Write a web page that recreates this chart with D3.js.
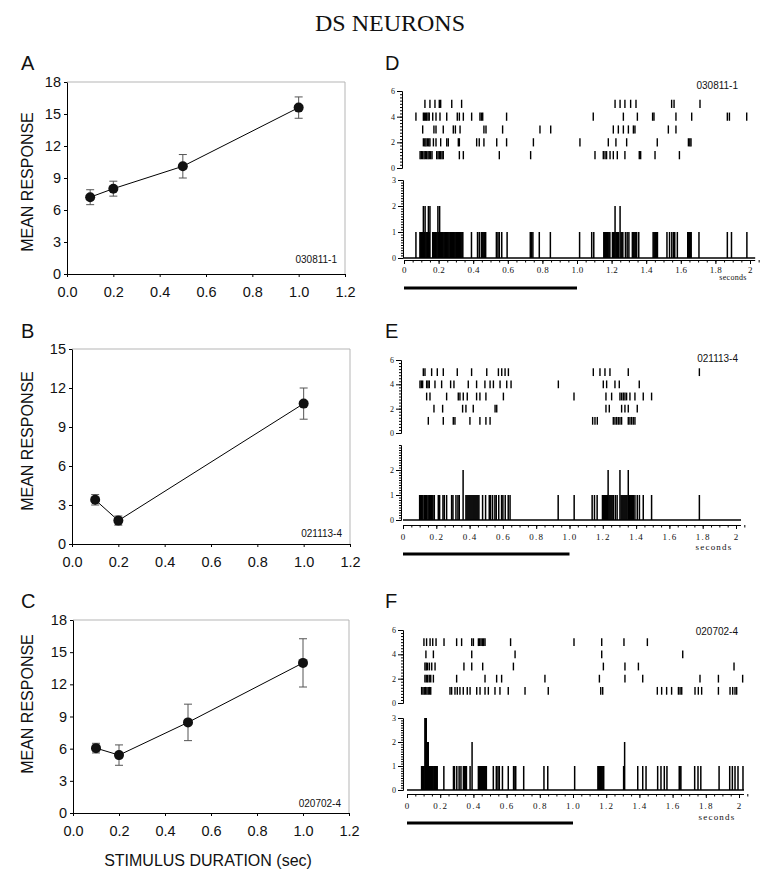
<!DOCTYPE html>
<html><head><meta charset="utf-8">
<script src="https://cdn.jsdelivr.net/npm/d3@7"></script>
<style>body{margin:0;background:#fff}</style>
</head><body><svg id="c" width="776" height="890"></svg>
<script>
// ---------------- Left panels: mean response vs stimulus duration ----------------
const xTicksDur = [0, 0.2, 0.4, 0.6, 0.8, 1.0, 1.2];
const durA = [0.1, 0.2, 0.5, 1.0];
const meanA = [7.2, 8.0, 10.1, 15.6];
const errA = [0.7, 0.7, 1.1, 1.0];
const yTicksA = [0, 3, 6, 9, 12, 15, 18];

const durB = [0.1, 0.2, 1.0];
const meanB = [3.4, 1.8, 10.8];
const errB = [0.4, 0.35, 1.2];
const yTicksB = [0, 3, 6, 9, 12, 15];

const durC = [0.1, 0.2, 0.5, 1.0];
const meanC = [6.05, 5.4, 8.45, 14.0];
const errC = [0.45, 0.95, 1.7, 2.25];
const yTicksC = [0, 3, 6, 9, 12, 15, 18];

// ---------------- Right panels: rasters (trial 1..5) and PSTH ----------------
const secTicks = [0, 0.2, 0.4, 0.6, 0.8, 1.0, 1.2, 1.4, 1.6, 1.8, 2.0];
const rasterTicks = [0, 2, 4, 6];

const rasterD1 = [0.093,0.100,0.108,0.116,0.123,0.131,0.139,0.146,0.154,0.162,0.189,0.197,0.205,0.212,0.220,0.227,0.320,0.343,0.551,0.732,1.104,1.152,1.162,1.171,1.191,1.210,1.233,1.277,1.360,1.368,1.451,1.592];
const rasterD2 = [0.112,0.120,0.127,0.135,0.143,0.150,0.170,0.185,0.212,0.247,0.256,0.314,0.320,0.420,0.435,0.462,0.536,0.593,0.748,1.017,1.181,1.225,1.287,1.464,1.644,1.652,1.659];
const rasterD3 = [0.108,0.173,0.185,0.227,0.285,0.297,0.324,0.462,0.474,0.570,0.786,0.848,1.210,1.239,1.268,1.297,1.326,1.335,1.528,1.572];
const rasterD4 = [0.069,0.112,0.118,0.125,0.131,0.139,0.146,0.166,0.185,0.208,0.247,0.308,0.320,0.343,0.391,0.439,0.447,0.455,0.593,1.094,1.268,1.349,1.437,1.445,1.572,1.663,1.869,1.881,1.981];
const rasterD5 = [0.121,0.150,0.179,0.204,0.212,0.276,0.333,1.220,1.249,1.277,1.310,1.341,1.547,1.561,1.711];
const histD = [[0.069,1],
 [0.092,1],[0.097,1],[0.102,1],[0.107,1],[0.112,2],[0.117,1],[0.122,2],[0.127,1],[0.132,1],[0.137,1],[0.141,2],[0.146,1],[0.150,2],
 [0.166,1],[0.171,1],[0.176,1],[0.181,1],[0.186,1],[0.191,1],[0.196,2],[0.201,1],[0.206,2],[0.211,1],[0.216,1],[0.221,1],[0.226,1],[0.231,1],[0.236,1],[0.241,1],[0.247,1],[0.253,1],[0.259,1],[0.265,1],[0.270,1],[0.275,1],[0.280,1],[0.285,1],[0.290,1],[0.295,1],[0.300,1],[0.305,1],[0.310,1],[0.315,1],[0.320,1],[0.325,1],[0.330,1],[0.335,1],[0.340,1],
 [0.390,1],[0.425,1],[0.435,1],[0.447,1],[0.452,1],[0.457,1],[0.462,1],[0.467,1],[0.472,1],
 [0.534,1],[0.543,1],[0.551,1],[0.565,1],[0.596,1],
 [0.730,1],[0.737,1],[0.745,1],[0.782,1],[0.846,1],[1.015,1],[1.085,1],[1.097,1],
 [1.155,1],[1.160,1],[1.165,1],[1.170,1],[1.175,1],[1.180,1],[1.185,1],[1.190,1],
 [1.205,1],[1.210,1],[1.215,1],[1.220,2],[1.225,1],[1.230,1],[1.235,1],[1.240,1],[1.249,2],[1.255,1],[1.260,1],[1.265,1],
 [1.280,1],[1.290,1],[1.300,1],
 [1.320,1],[1.325,1],[1.330,1],[1.335,1],[1.340,1],[1.345,1],[1.357,1],
 [1.440,1],[1.445,1],[1.450,1],[1.455,1],[1.460,1],[1.465,1],
 [1.520,1],[1.535,1],[1.548,1],[1.558,1],[1.565,1],[1.580,1],
 [1.640,1],[1.645,1],[1.650,1],[1.655,1],[1.660,1],[1.705,1],
 [1.869,1],[1.893,1],[1.982,1]];

const rasterE1 = [0.152,0.242,0.302,0.312,0.402,0.462,0.498,0.523,1.139,1.153,1.167,1.263,1.273,1.283,1.293,1.303,1.313,1.353,1.363,1.373,1.383,1.393];
const rasterE2 = [0.186,0.238,0.358,0.378,0.422,0.553,0.563,1.219,1.239,1.313,1.333,1.353,1.407];
const rasterE3 = [0.142,0.162,0.262,0.332,0.342,0.362,0.386,0.442,0.462,0.498,0.603,1.027,1.219,1.253,1.303,1.313,1.323,1.333,1.343,1.363,1.393,1.443,1.493];
const rasterE4 = [0.102,0.110,0.118,0.142,0.150,0.158,0.192,0.232,0.286,0.306,0.392,0.442,0.492,0.523,0.543,0.583,0.623,0.649,0.933,1.203,1.223,1.273,1.299,1.419];
const rasterE5 = [0.122,0.132,0.172,0.206,0.242,0.326,0.412,0.503,0.573,0.593,0.613,0.633,1.143,1.183,1.213,1.243,1.353,1.780];
const histE = [[0.100,1],[0.105,1],[0.110,1],[0.115,1],[0.120,1],[0.128,1],[0.135,1],[0.140,1],[0.145,1],[0.155,1],[0.160,1],[0.165,1],[0.170,1],[0.175,1],[0.180,1],[0.188,1],
 [0.212,1],[0.220,1],[0.240,1],[0.248,1],[0.262,1],[0.292,1],[0.300,1],[0.318,1],[0.330,1],[0.338,1],
 [0.361,2],
 [0.378,1],[0.384,1],[0.390,1],[0.396,1],[0.402,1],[0.408,1],[0.414,1],[0.420,1],[0.426,1],[0.432,1],[0.438,1],[0.444,1],[0.450,1],[0.456,1],
 [0.478,1],[0.496,1],[0.518,1],[0.526,1],[0.538,1],[0.552,1],[0.560,1],[0.575,1],[0.592,1],[0.600,1],[0.614,1],[0.632,1],[0.643,1],
 [0.932,1],[1.028,1],[1.136,1],[1.150,1],[1.166,1],
 [1.198,1],[1.204,1],[1.210,1],[1.216,1],[1.222,1],[1.228,1],[1.232,2],[1.238,1],[1.244,1],[1.250,1],[1.256,1],[1.263,1],
 [1.275,1],[1.286,1],[1.303,2],[1.310,1],[1.316,1],[1.322,1],[1.328,1],[1.334,1],[1.340,1],[1.346,1],[1.353,2],[1.360,1],[1.366,1],[1.372,1],[1.378,1],[1.385,1],[1.393,1],
 [1.407,1],[1.420,1],[1.443,1],[1.493,1],[1.780,1]];

const rasterF1 = [0.088,0.096,0.104,0.112,0.120,0.128,0.136,0.143,0.259,0.269,0.289,0.303,0.319,0.339,0.363,0.380,0.420,0.440,0.470,0.490,0.530,0.560,0.610,0.711,0.851,1.167,1.179,1.508,1.534,1.564,1.594,1.635,1.645,1.655,1.735,1.755,1.775,1.876,1.946,1.962,1.976,1.986];
const rasterF2 = [0.108,0.116,0.124,0.134,0.143,0.159,0.299,0.470,0.540,0.570,0.831,1.159,1.313,1.420,1.765,1.876,2.022];
const rasterF3 = [0.108,0.116,0.124,0.135,0.149,0.169,0.343,0.390,0.456,0.641,1.183,1.313,1.394,1.970];
const rasterF4 = [0.114,0.159,0.390,0.651,1.173,1.661];
const rasterF5 = [0.102,0.118,0.139,0.155,0.175,0.223,0.299,0.329,0.390,0.400,0.430,0.438,0.446,0.454,0.462,0.470,0.624,1.006,1.173,1.307,1.448];
const histF = [[0.088,1],[0.093,1],[0.098,1],[0.103,1],[0.108,3],[0.112,3],[0.116,3],[0.120,2],[0.124,2],[0.128,2],[0.132,1],[0.137,1],[0.142,1],[0.147,1],[0.152,1],[0.157,1],[0.162,1],[0.167,1],[0.172,1],[0.177,1],[0.182,1],
 [0.222,1],[0.280,1],[0.286,1],[0.300,1],[0.314,1],[0.325,1],[0.340,1],[0.346,1],[0.352,1],[0.358,1],[0.380,1],[0.392,2],
 [0.430,1],[0.436,1],[0.442,1],[0.448,1],[0.454,1],[0.460,1],[0.466,1],[0.472,1],[0.478,1],
 [0.520,1],[0.538,1],[0.548,1],[0.556,1],[0.575,1],[0.610,1],[0.642,1],[0.650,1],[0.655,1],[0.703,1],
 [0.825,1],[0.848,1],[1.010,1],
 [1.150,1],[1.155,1],[1.160,1],[1.165,1],[1.170,1],[1.175,1],[1.180,1],[1.185,1],
 [1.305,1],[1.311,2],[1.390,1],[1.420,1],[1.440,1],[1.510,1],[1.530,1],[1.550,1],[1.566,1],[1.640,1],[1.645,1],[1.650,1],
 [1.733,1],[1.753,1],[1.770,1],[1.880,1],[1.944,1],[1.960,1],[1.976,1],[1.994,1],[2.024,1]];

// ---------------- drawing ----------------
const SANS = "'Liberation Sans', Arial, sans-serif";
const SERIF = "'Liberation Serif', 'Times New Roman', serif";
const svg = d3.select('#c');
svg.append('rect').attr('width', 776).attr('height', 890).attr('fill', '#fff');

svg.append('text').attr('x', 390).attr('y', 31).attr('text-anchor', 'middle')
  .attr('font-family', SERIF).attr('font-size', 24).attr('fill', '#111').text('DS NEURONS');

const leftPanels = [
  {letter: 'A', letterY: 70, id: '030811-1', idY: 263, dur: durA, mean: meanA, err: errA, yt: yTicksA,
   L: 67, T: 82, R: 345, B: 274, labY: 182},
  {letter: 'B', letterY: 338, id: '021113-4', idY: 537, dur: durB, mean: meanB, err: errB, yt: yTicksB,
   L: 72, T: 349, R: 350, B: 544, labY: 441},
  {letter: 'C', letterY: 608, id: '020702-4', idY: 807, dur: durC, mean: meanC, err: errC, yt: yTicksC,
   L: 73, T: 620, R: 349, B: 813, labY: 704}
];

leftPanels.forEach(p => {
  const g = svg.append('g');
  const x = d3.scaleLinear().domain([0, 1.2]).range([p.L, p.R]);
  const y = d3.scaleLinear().domain([0, d3.max(p.yt)]).range([p.B, p.T]);

  g.append('text').attr('x', 21).attr('y', p.letterY).attr('font-family', SANS)
    .attr('font-size', 20).attr('fill', '#111').text(p.letter);

  // light frame (top & right)
  g.append('path').attr('d', `M${p.L},${p.T}H${p.R}V${p.B}`).attr('fill', 'none')
    .attr('stroke', '#b5b5b5').attr('stroke-width', 1);

  const ya = g.append('g').attr('transform', `translate(${p.L},0)`)
    .call(d3.axisLeft(y).tickValues(p.yt).tickFormat(d3.format('d')).tickSize(3).tickSizeOuter(0).tickPadding(3));
  ya.attr('font-family', SANS).attr('font-size', 14.5);
  const xa = g.append('g').attr('transform', `translate(0,${p.B})`)
    .call(d3.axisBottom(x).tickValues(xTicksDur).tickFormat(d3.format('.1f')).tickSize(3).tickSizeOuter(0).tickPadding(10));
  xa.attr('font-family', SANS).attr('font-size', 14.5);
  g.selectAll('text').attr('fill', '#111');
  g.selectAll('.domain').attr('stroke', '#000');

  g.append('text').attr('transform', `translate(33,${p.labY}) rotate(-90)`)
    .attr('text-anchor', 'middle').attr('font-family', SANS).attr('font-size', 16)
    .attr('fill', '#111').text('MEAN RESPONSE');

  g.append('text').attr('x', p.R - 8).attr('y', p.idY).attr('text-anchor', 'end')
    .attr('font-family', SANS).attr('font-size', 10).attr('fill', '#111').text(p.id);

  const pts = p.dur.map((d, i) => ({d, m: p.mean[i], e: p.err[i]}));
  g.append('path').datum(pts).attr('fill', 'none').attr('stroke', '#000').attr('stroke-width', 1)
    .attr('d', d3.line().x(d => x(d.d)).y(d => y(d.m)));
  pts.forEach(q => {
    const cx = x(q.d);
    g.append('path').attr('fill', 'none').attr('stroke', '#555').attr('stroke-width', 1)
      .attr('d', `M${cx},${y(q.m - q.e)}V${y(q.m + q.e)}M${cx - 4},${y(q.m - q.e)}H${cx + 4}M${cx - 4},${y(q.m + q.e)}H${cx + 4}`);
  });
  g.selectAll('circle.pt').data(pts).enter().append('circle')
    .attr('cx', d => x(d.d)).attr('cy', d => y(d.m)).attr('r', 5).attr('fill', '#111');
});

svg.append('text').attr('x', 208).attr('y', 866).attr('text-anchor', 'middle')
  .attr('font-family', SANS).attr('font-size', 16).attr('fill', '#111').text('STIMULUS DURATION (sec)');

const rightPanels = [
  {letter: 'D', letterY: 70, id: '030811-1', idY: 89, rows: [rasterD1, rasterD2, rasterD3, rasterD4, rasterD5], hist: histD,
   x0: 404, x2: 750, rY0: 168, rY6: 91, hY0: 258, hY3: 180, axisY: 260, labPad: 3, rAxisX: 402, hAxisX: 403,
   histLabels: [0, 1, 2, 3], secX: 733, secY: 280, secSize: 8, secLS: 0.3, barY: 288},
  {letter: 'E', letterY: 338, id: '021113-4', idY: 362, rows: [rasterE1, rasterE2, rasterE3, rasterE4, rasterE5], hist: histE,
   x0: 403, x2: 736, rY0: 433, rY6: 360, hY0: 520, hY3: 445, axisY: 525, labPad: 4.5, rAxisX: 401, hAxisX: 401,
   histLabels: [0, 1, 2], secX: 714, secY: 550, secSize: 9, secLS: 1.2, barY: 554},
  {letter: 'F', letterY: 608, id: '020702-4', idY: 635, rows: [rasterF1, rasterF2, rasterF3, rasterF4, rasterF5], hist: histF,
   x0: 407, x2: 739, rY0: 703, rY6: 630, hY0: 790, hY3: 718, axisY: 794, labPad: 5, rAxisX: 403, hAxisX: 403,
   histLabels: [0, 1, 2, 3], secX: 717, secY: 820, secSize: 9, secLS: 1.2, barY: 823}
];

const fmtSec = d => (d === 0 ? '0' : d === 2 ? '2' : d.toFixed(1));

rightPanels.forEach(p => {
  const g = svg.append('g');
  const x = d3.scaleLinear().domain([0, 2]).range([p.x0, p.x2]);
  const yr = d3.scaleLinear().domain([0, 6]).range([p.rY0, p.rY6]);
  const yh = d3.scaleLinear().domain([0, 3]).range([p.hY0, p.hY3]);

  g.append('text').attr('x', 385).attr('y', p.letterY).attr('font-family', SANS)
    .attr('font-size', 20).attr('fill', '#111').text(p.letter);
  g.append('text').attr('x', 738).attr('y', p.idY).attr('text-anchor', 'end')
    .attr('font-family', SANS).attr('font-size', 10).attr('fill', '#111').text(p.id);

  // raster y axis
  const ra = g.append('g').attr('transform', `translate(${p.rAxisX},0)`);
  ra.call(d3.axisLeft(yr).tickValues(d3.range(0, 6.01, 0.25)).tickSize(2).tickFormat(() => '').tickSizeOuter(0));
  const ra2 = g.append('g').attr('transform', `translate(${p.rAxisX},0)`);
  ra2.call(d3.axisLeft(yr).tickValues(rasterTicks).tickFormat(d3.format('d')).tickSize(5).tickPadding(2).tickSizeOuter(0));
  ra2.attr('font-family', SERIF).attr('font-size', 8);

  // raster marks
  p.rows.forEach((row, i) => {
    const trial = i + 1;
    g.append('g').selectAll('line').data(row).enter().append('line')
      .attr('x1', d => x(d)).attr('x2', d => x(d))
      .attr('y1', yr(trial - 0.32)).attr('y2', yr(trial + 0.32))
      .attr('stroke', '#000').attr('stroke-width', 1.4);
  });

  // histogram y axis
  const ha = g.append('g').attr('transform', `translate(${p.hAxisX},0)`);
  ha.call(d3.axisLeft(yh).tickValues(d3.range(0, 3.001, 0.1)).tickSize(2).tickFormat(() => '').tickSizeOuter(0));
  const ha2 = g.append('g').attr('transform', `translate(${p.hAxisX},0)`);
  ha2.call(d3.axisLeft(yh).tickValues(p.histLabels).tickFormat(d3.format('d')).tickSize(5).tickPadding(2).tickSizeOuter(0));
  ha2.attr('font-family', SERIF).attr('font-size', 8);

  // histogram baseline and bars
  g.append('line').attr('x1', x(0)).attr('x2', x(2.03)).attr('y1', p.hY0).attr('y2', p.hY0)
    .attr('stroke', '#000').attr('stroke-width', 1.6);
  g.append('g').selectAll('line').data(p.hist).enter().append('line')
    .attr('x1', d => x(d[0])).attr('x2', d => x(d[0]))
    .attr('y1', p.hY0).attr('y2', d => yh(d[1]))
    .attr('stroke', '#000').attr('stroke-width', 1.5);

  // time axis
  const xa = g.append('g').attr('transform', `translate(0,${p.axisY})`);
  xa.call(d3.axisBottom(x).tickValues(d3.range(0, 2.051, 0.05)).tickSize(2.5).tickFormat(() => '').tickSizeOuter(0));
  const xa2 = g.append('g').attr('transform', `translate(0,${p.axisY})`);
  xa2.call(d3.axisBottom(x).tickValues(secTicks).tickFormat(fmtSec).tickSize(4).tickPadding(p.labPad).tickSizeOuter(0));
  xa2.attr('font-family', SERIF).attr('font-size', 9);
  xa2.selectAll('text').attr('letter-spacing', p.secLS);
  xa.select('.domain').remove();
  xa2.select('.domain').remove();
  g.selectAll('.domain').attr('stroke', '#000');
  g.selectAll('.tick text').attr('fill', '#111');
  g.append('line').attr('x1', x(0)).attr('x2', x(2.03)).attr('y1', p.axisY + 0.5).attr('y2', p.axisY + 0.5)
    .attr('stroke', '#000').attr('stroke-width', 1.2);

  g.append('text').attr('x', p.secX).attr('y', p.secY).attr('text-anchor', 'middle')
    .attr('font-family', SERIF).attr('font-size', p.secSize).attr('letter-spacing', p.secLS)
    .attr('fill', '#111').text('seconds');

  // stimulus bar (0 - 1 s)
  g.append('line').attr('x1', x(0)).attr('x2', x(1.0)).attr('y1', p.barY).attr('y2', p.barY)
    .attr('stroke', '#000').attr('stroke-width', 3);
});
</script></body></html>
